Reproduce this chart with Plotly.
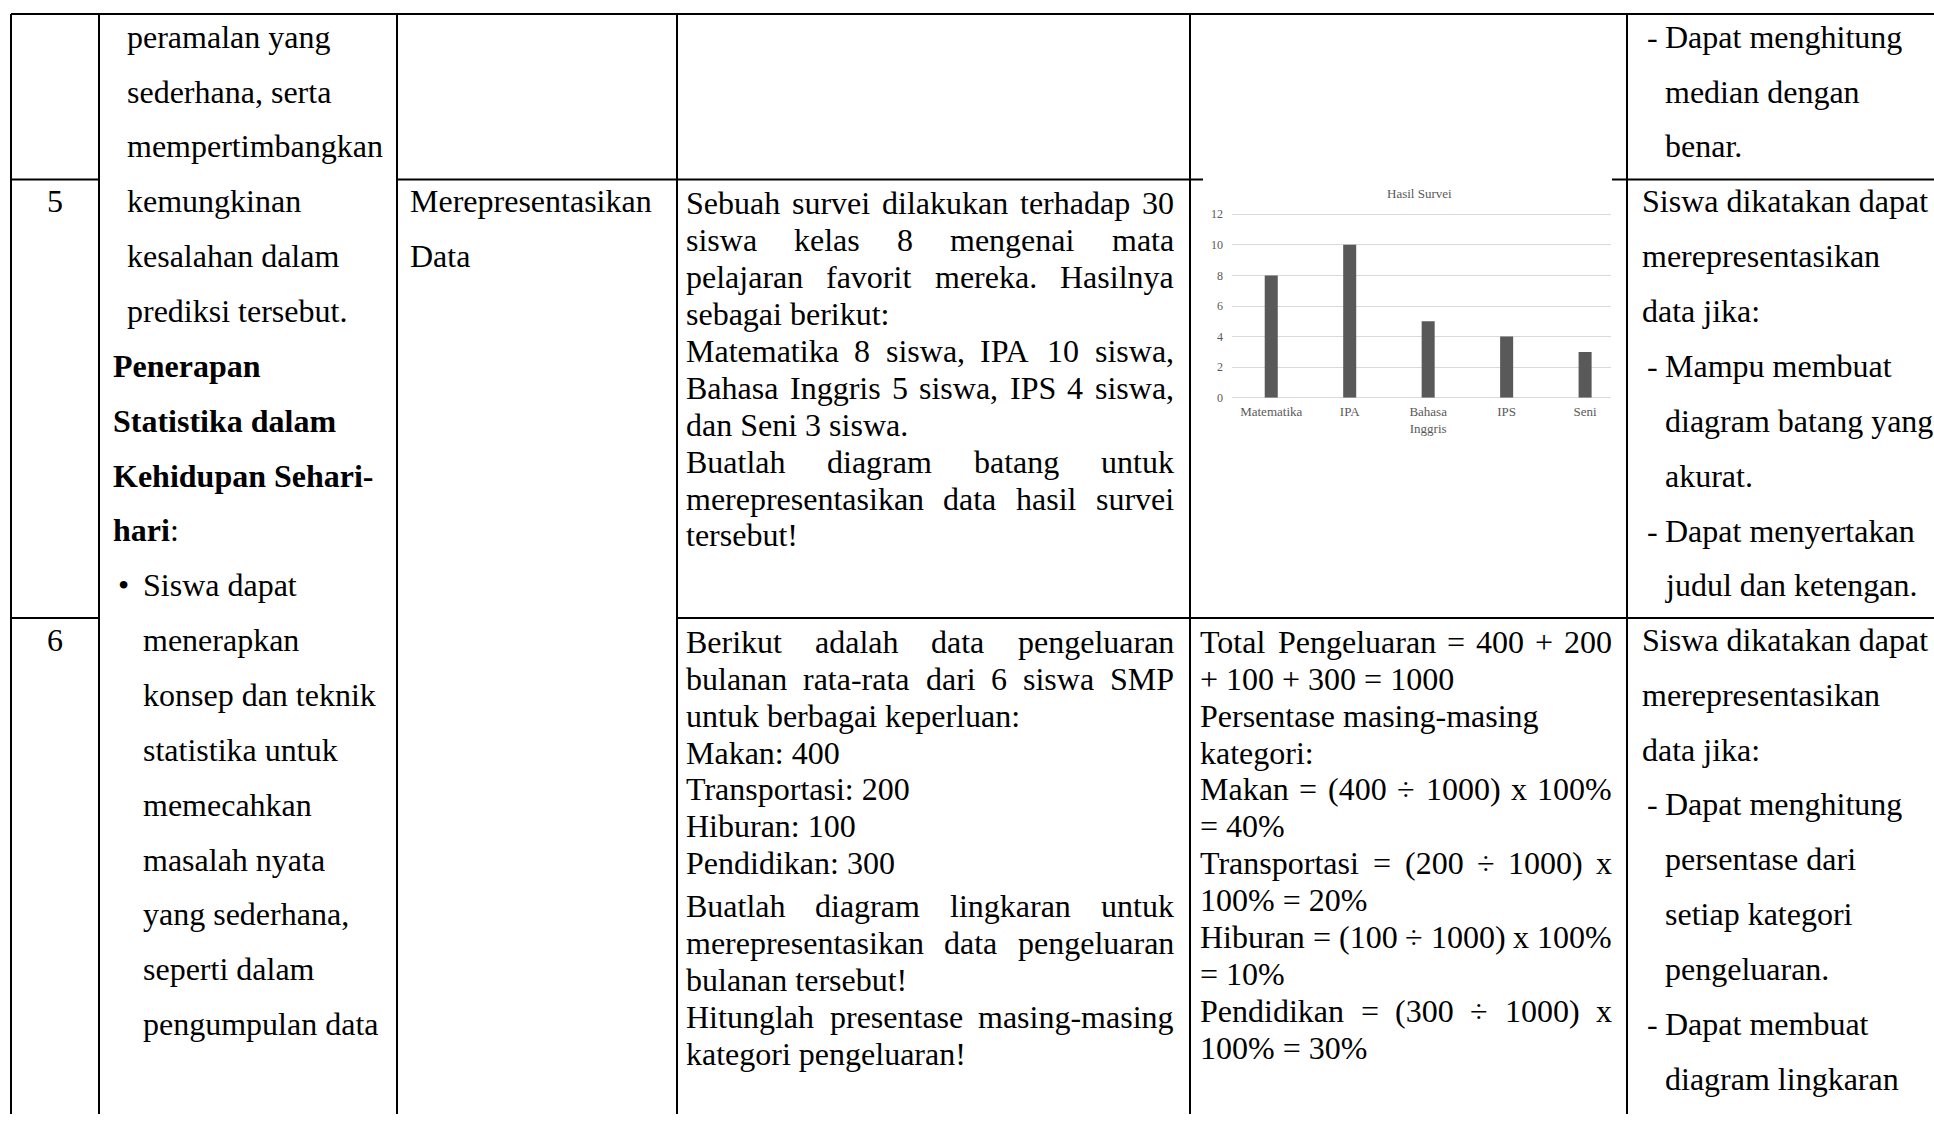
import plotly.graph_objects as go

W, H = 1934, 1121

# ---------------- data: embedded bar chart ----------------
chart_title = "Hasil Survei"
subjects = ["Matematika", "IPA", "Bahasa<br>Inggris", "IPS", "Seni"]
students = [8, 10, 5, 4, 3]
y_ticks = [0, 2, 4, 6, 8, 10, 12]

# ---------------- data: table text ----------------
row_numbers = ["5", "6"]
col2_lines = [
    "peramalan yang", "sederhana, serta", "mempertimbangkan", "kemungkinan",
    "kesalahan dalam", "prediksi tersebut.", "<b>Penerapan</b>", "<b>Statistika dalam</b>",
    "<b>Kehidupan Sehari-</b>", "<b>hari</b>:", "• Siswa dapat", "menerapkan",
    "konsep dan teknik", "statistika untuk", "memecahkan", "masalah nyata",
    "yang sederhana,", "seperti dalam", "pengumpulan data",
]
col3_lines = ["Merepresentasikan", "Data"]
q5_paragraphs = [
    ["Sebuah survei dilakukan terhadap 30", "siswa kelas 8 mengenai mata",
     "pelajaran favorit mereka. Hasilnya", "sebagai berikut:"],
    ["Matematika 8 siswa, IPA 10 siswa,", "Bahasa Inggris 5 siswa, IPS 4 siswa,",
     "dan Seni 3 siswa."],
    ["Buatlah diagram batang untuk", "merepresentasikan data hasil survei", "tersebut!"],
]
q6_paragraphs = [
    ["Berikut adalah data pengeluaran", "bulanan rata-rata dari 6 siswa SMP",
     "untuk berbagai keperluan:"],
    ["Makan: 400"], ["Transportasi: 200"], ["Hiburan: 100"], ["Pendidikan: 300"],
    ["Buatlah diagram lingkaran untuk", "merepresentasikan data pengeluaran",
     "bulanan tersebut!"],
    ["Hitunglah presentase masing-masing", "kategori pengeluaran!"],
]
a6_paragraphs = [
    ["Total Pengeluaran = 400 + 200", "+ 100 + 300 = 1000"],
    ["Persentase masing-masing"], ["kategori:"],
    ["Makan = (400 ÷ 1000) x 100%", "= 40%"],
    ["Transportasi = (200 ÷ 1000) x", "100% = 20%"],
    ["Hiburan = (100 ÷ 1000) x 100%", "= 10%"],
    ["Pendidikan = (300 ÷ 1000) x", "100% = 30%"],
]
col6_row4 = ["- Dapat menghitung", "median dengan", "benar."]
col6_row5 = ["Siswa dikatakan dapat", "merepresentasikan", "data jika:", "- Mampu membuat",
             "diagram batang yang", "akurat.", "- Dapat menyertakan", "judul dan ketengan."]
col6_row6 = ["Siswa dikatakan dapat", "merepresentasikan", "data jika:", "- Dapat menghitung",
             "persentase dari", "setiap kategori", "pengeluaran.", "- Dapat membuat",
             "diagram lingkaran"]

# ---------------- styling / layout ----------------
FONT = "Liberation Serif"
FS = 32
TXT = "#000000"
GREY = "#595959"

# Times (Liberation Serif) advance widths per 1000 em
TW = {' ': 250, '!': 333, '%': 833, '(': 333, ')': 333, '+': 564, ',': 250, '-': 333,
      '.': 250, ':': 278, '=': 564, '÷': 564,
      'A': 722, 'B': 667, 'C': 667, 'D': 722, 'E': 611, 'F': 556, 'G': 722, 'H': 722,
      'I': 333, 'J': 389, 'K': 722, 'L': 611, 'M': 889, 'N': 722, 'O': 722, 'P': 556,
      'Q': 722, 'R': 667, 'S': 556, 'T': 611, 'U': 722, 'V': 722, 'W': 944, 'X': 722,
      'Y': 722, 'Z': 611,
      'a': 444, 'b': 500, 'c': 444, 'd': 500, 'e': 444, 'f': 333, 'g': 500, 'h': 500,
      'i': 278, 'j': 278, 'k': 500, 'l': 278, 'm': 778, 'n': 500, 'o': 500, 'p': 500,
      'q': 500, 'r': 333, 's': 389, 't': 278, 'u': 500, 'v': 500, 'w': 722, 'x': 500,
      'y': 500, 'z': 444}
for d in "0123456789":
    TW[d] = 500


def tw(s):
    return sum(TW.get(c, 500) for c in s) * FS / 1000.0


annotations = []
shapes = []


def px(x):
    return x / W


def py(y):
    return 1 - y / H


def add_text(text, x, y, anchor="left", size=FS, color=TXT):
    annotations.append(dict(text=text, x=px(x), y=py(y), xref="paper", yref="paper",
                            xanchor=anchor, yanchor="middle", showarrow=False,
                            borderpad=0, borderwidth=0,
                            font=dict(family=FONT, size=size, color=color)))


def add_line(x0, y0, x1, y1):
    shapes.append(dict(type="line", xref="paper", yref="paper", x0=px(x0), y0=py(y0),
                       x1=px(x1), y1=py(y1), line=dict(color="#000000", width=2)))


def justify_line(text, x0, x1, y):
    words = text.split(" ")
    if len(words) < 2:
        add_text(text, x0, y)
        return
    widths = [tw(w) for w in words]
    gap = (x1 - x0 - sum(widths)) / (len(words) - 1)
    x = x0
    for w, wd in zip(words, widths):
        add_text(w, x, y)
        x += wd + gap


def paragraphs(paras, x0, x1, y0, step, extra_gap=None):
    y = y0
    for pi, para in enumerate(paras):
        if extra_gap and pi in extra_gap:
            y += extra_gap[pi]
        for li, line in enumerate(para):
            if li < len(para) - 1:
                justify_line(line, x0, x1, y)
            else:
                add_text(line, x0, y)
            y += step


# table grid
XL = [11, 99, 397, 677, 1190, 1627]
Y_TOP, Y_R5, Y_R6 = 12, 179, 621
add_line(XL[0], Y_TOP, W, Y_TOP)
for x in XL:
    add_line(x, Y_TOP, x, H)
add_line(XL[0], Y_R5, XL[1], Y_R5)
add_line(XL[2], Y_R5, 1203, Y_R5)
add_line(1612, Y_R5, W, Y_R5)
add_line(XL[0], Y_R6, XL[1], Y_R6)
add_line(XL[3], Y_R6, W, Y_R6)

# column 1 numbers
add_text(row_numbers[0], 55, 201, anchor="center")
add_text(row_numbers[1], 55, 643, anchor="center")

# column 2
L2 = 55.3
bullet_mode = False
for i, line in enumerate(col2_lines):
    y = 35 + L2 * i
    if line.startswith("•"):
        bullet_mode = True
        add_text("•", 118, y)
        add_text(line[1:].strip(), 143, y)
    elif bullet_mode:
        add_text(line, 143, y)
    elif line.startswith("<b>"):
        add_text(line, 113, y)
    else:
        add_text(line, 127, y)

# column 3
for i, line in enumerate(col3_lines):
    add_text(line, 410, 201 + L2 * i)

# column 4
L4 = 37.2
paragraphs(q5_paragraphs, 686, 1174, 203, L4)
paragraphs(q6_paragraphs, 686, 1174, 645, L4, extra_gap={5: 6})

# column 5 (row 6)
paragraphs(a6_paragraphs, 1200, 1612, 645, L4)


# column 6
def col6(lines, y0):
    indent = False
    for i, line in enumerate(lines):
        y = y0 + L2 * i
        if line.startswith("- "):
            indent = True
            add_text("-", 1647, y)
            add_text(line[2:], 1665, y)
        elif indent:
            add_text(line, 1665, y)
        else:
            add_text(line, 1642, y)


col6(col6_row4, 35)
col6(col6_row5, 201)
col6(col6_row6, 643)

# ---------------- embedded bar chart ----------------
unit = (399 - 214) / 12.0
y_max = 12.3
x_dom = [1232 / W, 1611 / W]
y_dom = [1 - 399 / H, 1 - (399 - y_max * unit) / H]

fig = go.Figure()
fig.add_trace(go.Bar(x=subjects, y=students, marker=dict(color=GREY, line=dict(width=0)),
                     width=0.166, hoverinfo="skip"))

add_text(chart_title, 1419, 193, anchor="center", size=13, color=GREY)

fig.update_layout(
    width=W, height=H, autosize=False,
    margin=dict(l=0, r=0, t=0, b=0),
    paper_bgcolor="white", plot_bgcolor="rgba(0,0,0,0)",
    showlegend=False,
    annotations=annotations, shapes=shapes,
    xaxis=dict(domain=x_dom, range=[-0.5, 4.33], showgrid=False, showline=False,
               zeroline=False, ticks="", tickfont=dict(family=FONT, size=13, color=GREY),
               ticklabelstandoff=4, fixedrange=True),
    yaxis=dict(domain=y_dom, range=[0, y_max], tickvals=y_ticks, showgrid=True,
               gridcolor="#d9d9d9", gridwidth=1, zeroline=True, zerolinecolor="#d9d9d9",
               zerolinewidth=1, showline=False, ticks="",
               tickfont=dict(family=FONT, size=12, color=GREY), ticklabelstandoff=8,
               fixedrange=True),
)

fig.write_html("out.html", config={"displayModeBar": False, "staticPlot": True},
               post_script="document.body.style.margin='0px';document.body.style.overflow='hidden';")
